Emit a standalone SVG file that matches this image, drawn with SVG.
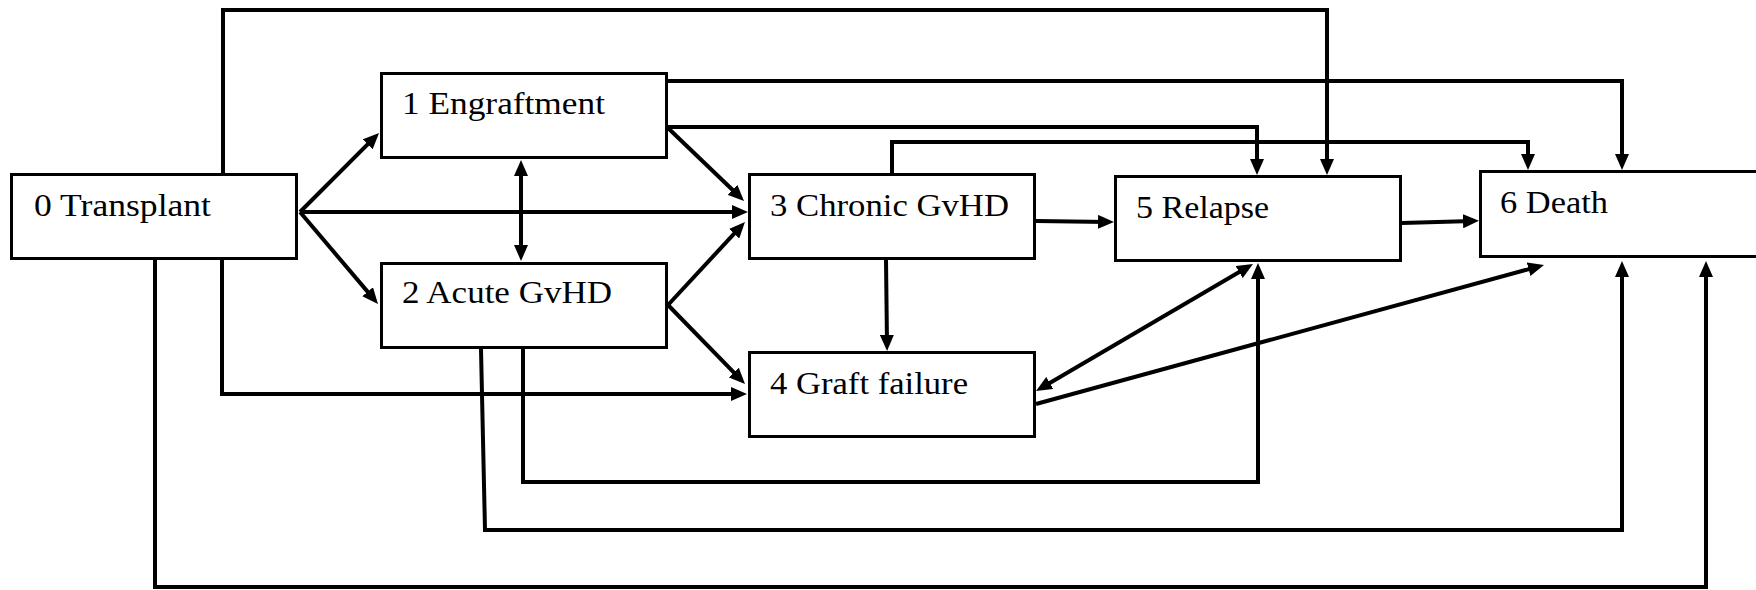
<svg xmlns="http://www.w3.org/2000/svg" width="1756" height="590" viewBox="0 0 1756 590">
<style>
.box{fill:#fff;stroke:#000;stroke-width:3}
.lbl{font-family:"Palatino Linotype","Book Antiqua",Palatino,"Liberation Serif",serif;font-size:31px;fill:#000}
.c{fill:none;stroke:#000;stroke-width:4;stroke-linejoin:miter;stroke-linecap:butt}
.a{marker-end:url(#ah)}
.d{marker-start:url(#ah);marker-end:url(#ah)}
</style>
<defs>
<marker id="ah" markerUnits="userSpaceOnUse" markerWidth="16" markerHeight="14" viewBox="0 0 16 14" refX="10" refY="7" orient="auto-start-reverse">
<path d="M0,0 L16,7 L0,14 z" fill="#000"/>
</marker>
</defs>
<rect width="1756" height="590" fill="#fff"/>
<g id="connectors">
<path class="c a" d="M300,212 L374.8,137.2"/>
<path class="c a" d="M300,212 L374.1,299.4"/>
<path class="c a" d="M300,212 L742,212"/>
<path class="c d" d="M521,166 L521,255"/>
<path class="c a" d="M668,128 L739.7,196.8"/>
<path class="c a" d="M668,305 L740.9,226.4"/>
<path class="c a" d="M668,305 L740.8,379.7"/>
<path class="c a" d="M223,173 L223,10 L1327,10 L1327,169"/>
<path class="c a" d="M222,259 L222,394 L741,394"/>
<path class="c a" d="M155,259 L155,587 L1706,587 L1706,267"/>
<path class="c a" d="M523,349 L523,482 L1258,482 L1258,269"/>
<path class="c a" d="M481,349 L485,530 L1622,530 L1622,267"/>
<path class="c a" d="M667,81 L1622,81 L1622,164"/>
<path class="c a" d="M667,127 L1257,127 L1257,169"/>
<path class="c a" d="M892,173 L892,142 L1528,142 L1528,164"/>
<path class="c a" d="M1036,221 L1108,222"/>
<path class="c a" d="M1402,223 L1473,221"/>
<path class="c a" d="M886,259 L887,345"/>
<path class="c d" d="M1041.2,388 L1247.8,267"/>
<path class="c a" d="M1036,404 L1538.2,266.6"/>
</g>
<g id="node0">
<rect class="box" x="11.5" y="174.5" width="285" height="84"/>
<text class="lbl" x="34" y="216" textLength="177" lengthAdjust="spacingAndGlyphs">0 Transplant</text>
</g>
<g id="node1">
<rect class="box" x="381.5" y="73.5" width="285" height="84"/>
<text class="lbl" x="402" y="114" textLength="203" lengthAdjust="spacingAndGlyphs">1 Engraftment</text>
</g>
<g id="node2">
<rect class="box" x="381.5" y="263.5" width="285" height="84"/>
<text class="lbl" x="402" y="303" textLength="210" lengthAdjust="spacingAndGlyphs">2 Acute GvHD</text>
</g>
<g id="node3">
<rect class="box" x="749.5" y="174.5" width="285" height="84"/>
<text class="lbl" x="770" y="216" textLength="239" lengthAdjust="spacingAndGlyphs">3 Chronic GvHD</text>
</g>
<g id="node4">
<rect class="box" x="749.5" y="352.5" width="285" height="84"/>
<text class="lbl" x="770" y="394" textLength="198" lengthAdjust="spacingAndGlyphs">4 Graft failure</text>
</g>
<g id="node5">
<rect class="box" x="1115.5" y="176.5" width="285" height="84"/>
<text class="lbl" x="1136" y="218" textLength="133" lengthAdjust="spacingAndGlyphs">5 Relapse</text>
</g>
<g id="node6">
<rect class="box" x="1480.5" y="171.5" width="300" height="85"/>
<text class="lbl" x="1500" y="213" textLength="108" lengthAdjust="spacingAndGlyphs">6 Death</text>
</g>
</svg>
